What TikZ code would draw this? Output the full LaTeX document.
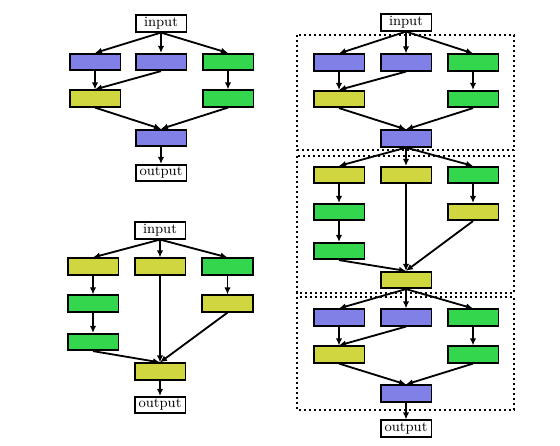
\documentclass[tikz,border=0pt]{standalone}
\usetikzlibrary{arrows.meta}
\definecolor{cblue}{RGB}{128,128,230}
\definecolor{cyel}{RGB}{207,214,63}
\definecolor{cgrn}{RGB}{51,214,77}
\tikzset{
  blk/.style={draw=black, line width=1.1pt, minimum width=30.5pt, minimum height=9.8pt, inner sep=0pt},
  bb/.style={blk, fill=cblue},
  yb/.style={blk, fill=cyel},
  gb/.style={blk, fill=cgrn},
  io/.style={blk, fill=white, font=\fontsize{8.5}{10}\selectfont},
  arr/.style={-{Latex[length=4.2pt,width=3.8pt]}, line width=1.1pt},
  dbox/.style={draw=black, line width=1.4pt, dash pattern=on 1.4pt off 1.6pt}
}
\begin{document}
\begin{tikzpicture}[x=0.6pt,y=-0.6pt]
\useasboundingbox (0,0) rectangle (560,445);
% ---------- Diagram A (top-left) ----------
\node[io] (ain) at (161,23.5) {input};
\node[bb] (a1) at (95,62) {};
\node[bb] (a2) at (161,62) {};
\node[gb] (a3) at (228,62) {};
\node[yb] (a4) at (95,98.5) {};
\node[gb] (a5) at (228,98.5) {};
\node[bb] (am) at (161,138) {};
\node[io] (aout) at (161,173) {output};
\draw[arr] (ain.south) -- (a1.north);
\draw[arr] (ain.south) -- (a2.north);
\draw[arr] (ain.south) -- (a3.north);
\draw[arr] (a1.south) -- (a4.north);
\draw[arr] (a2.south) -- (a4.north);
\draw[arr] (a3.south) -- (a5.north);
\draw[arr] (a4.south) -- (am.north);
\draw[arr] (a5.south) -- (am.north);
\draw[arr] (am.south) -- (aout.north);
% ---------- Diagram B (bottom-left) ----------
\node[io] (bin) at (160,230.5) {input};
\node[yb] (b1) at (93,266.5) {};
\node[yb] (b2) at (160,266.5) {};
\node[gb] (b3) at (227.5,266.5) {};
\node[gb] (b4) at (93,303.5) {};
\node[yb] (b5) at (227.5,303.5) {};
\node[gb] (b6) at (93,342) {};
\node[yb] (bm) at (160,371.5) {};
\node[io] (bout) at (160,405) {output};
\draw[arr] (bin.south) -- (b1.north);
\draw[arr] (bin.south) -- (b2.north);
\draw[arr] (bin.south) -- (b3.north);
\draw[arr] (b1.south) -- (b4.north);
\draw[arr] (b4.south) -- (b6.north);
\draw[arr] (b3.south) -- (b5.north);
\draw[arr] (b6.south) -- (bm.north);
\draw[arr] (b2.south) -- (bm.north);
\draw[arr] (b5.south) -- (bm.north);
\draw[arr] (bm.south) -- (bout.north);
% ---------- Diagram C (right) ----------
\draw[dbox] (297,35) rectangle (514,150);
\draw[dbox] (297,156) rectangle (514,293);
\draw[dbox] (297,297) rectangle (514,410);
\node[io] (cin) at (406,22.5) {input};
% block 1
\node[bb] (c1) at (339,62.5) {};
\node[bb] (c2) at (406,62.5) {};
\node[gb] (c3) at (473,62.5) {};
\node[yb] (c4) at (339,99) {};
\node[gb] (c5) at (473,99) {};
\node[bb] (cm1) at (406,138.5) {};
\draw[arr] (cin.south) -- (c1.north);
\draw[arr] (cin.south) -- (c2.north);
\draw[arr] (cin.south) -- (c3.north);
\draw[arr] (c1.south) -- (c4.north);
\draw[arr] (c2.south) -- (c4.north);
\draw[arr] (c3.south) -- (c5.north);
\draw[arr] (c4.south) -- (cm1.north);
\draw[arr] (c5.south) -- (cm1.north);
% block 2
\node[yb] (d1) at (339,175) {};
\node[yb] (d2) at (406,175) {};
\node[gb] (d3) at (473,175) {};
\node[gb] (d4) at (339,212) {};
\node[yb] (d5) at (473,212) {};
\node[gb] (d6) at (339,251) {};
\node[yb] (cm2) at (406,280) {};
\draw[arr] (cm1.south) -- (d1.north);
\draw[arr] (cm1.south) -- (d2.north);
\draw[arr] (cm1.south) -- (d3.north);
\draw[arr] (d1.south) -- (d4.north);
\draw[arr] (d4.south) -- (d6.north);
\draw[arr] (d3.south) -- (d5.north);
\draw[arr] (d6.south) -- (cm2.north);
\draw[arr] (d2.south) -- (cm2.north);
\draw[arr] (d5.south) -- (cm2.north);
% block 3
\node[bb] (e1) at (339,317.5) {};
\node[bb] (e2) at (406,317.5) {};
\node[gb] (e3) at (473,317.5) {};
\node[yb] (e4) at (339,354.5) {};
\node[gb] (e5) at (473,354.5) {};
\node[bb] (cm3) at (406,393.5) {};
\node[io] (cout) at (406,428.5) {output};
\draw[arr] (cm2.south) -- (e1.north);
\draw[arr] (cm2.south) -- (e2.north);
\draw[arr] (cm2.south) -- (e3.north);
\draw[arr] (e1.south) -- (e4.north);
\draw[arr] (e2.south) -- (e4.north);
\draw[arr] (e3.south) -- (e5.north);
\draw[arr] (e4.south) -- (cm3.north);
\draw[arr] (e5.south) -- (cm3.north);
\draw[arr] (cm3.south) -- (cout.north);
\end{tikzpicture}
\end{document}
